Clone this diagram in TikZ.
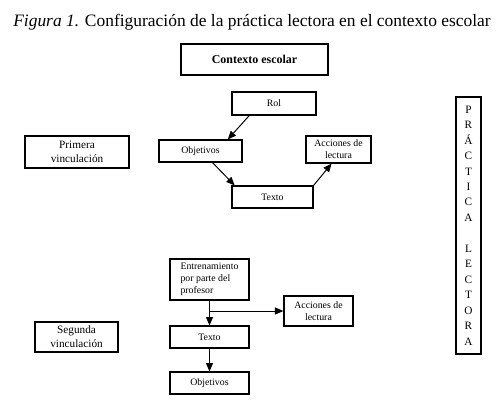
\documentclass[tikz,border=0pt]{standalone}
\usepackage{fontspec}
\setmainfont{Liberation Serif}
\usetikzlibrary{arrows.meta}

\begin{document}
\begin{tikzpicture}[x=0.025cm, y=-0.025cm,
  caja/.style={draw, line width=0.8pt, inner sep=1pt, align=center, font=\fontsize{7}{8.5}\selectfont},
  flecha/.style={-{Triangle[length=6pt,width=5pt]}, line width=0.7pt}]
\useasboundingbox (0,0) rectangle (496,416);

\node (titulo) at (252,22) {\fontsize{12.4}{14}\selectfont\textit{Figura 1.} Configuración de la práctica lectora en el contexto escolar};

\node[caja, minimum width=3.675cm, minimum height=0.775cm, font=\fontsize{8.5}{10}\selectfont\bfseries] (contexto) at (254.5,59.5) {Contexto escolar};

\node[caja, minimum width=2.1cm, minimum height=0.575cm] (rol) at (274,103.5) {Rol};
\node[caja, minimum width=2.075cm, minimum height=0.55cm] (objetivosA) at (200.5,151) {Objetivos};
\node[caja, minimum width=2.025cm, minimum height=0.55cm] (textoA) at (272.5,197) {Texto};
\node[caja, minimum width=1.625cm, minimum height=0.675cm] (accionesA) at (338.5,149.5) {Acciones de\\lectura};
\node[caja, minimum width=2.6cm, minimum height=0.8cm, font=\fontsize{8}{10}\selectfont] (primera) at (77,152) {Primera\\vinculación};

\draw[flecha] (rol.206) -- (objetivosA.23);
\draw[flecha] (objetivosA.316) -- (textoA.163);
\draw[flecha] (textoA.north east) -- (accionesA.244);

\node[caja, minimum width=1.975cm, minimum height=1.025cm, align=left] (entrenamiento) at (209.5,279.5) {Entrenamiento\\por parte del\\profesor};
\node[caja, minimum width=1.725cm, minimum height=0.75cm] (accionesB) at (318.5,311) {Acciones de\\lectura};
\node[caja, minimum width=1.975cm, minimum height=0.55cm] (textoB) at (209.5,337) {Texto};
\node[caja, minimum width=1.975cm, minimum height=0.55cm] (objetivosB) at (209.5,383) {Objetivos};
\node[caja, minimum width=2.075cm, minimum height=0.75cm, font=\fontsize{8}{10}\selectfont] (segunda) at (76.5,337) {Segunda\\vinculación};

\draw[flecha] (entrenamiento.south) -- (textoB.north);
\draw[flecha] (entrenamiento.south |- accionesB.west) -- (accionesB.west);
\draw[flecha] (textoB.south) -- (objetivosB.north);

\node[caja, minimum width=0.625cm, minimum height=6.425cm, font=\fontsize{8}{11}\selectfont] (practica) at (468.5,225.5) {P\\R\\Á\\C\\T\\I\\C\\A\\[11pt]L\\E\\C\\T\\O\\R\\A};
\end{tikzpicture}
\end{document}
